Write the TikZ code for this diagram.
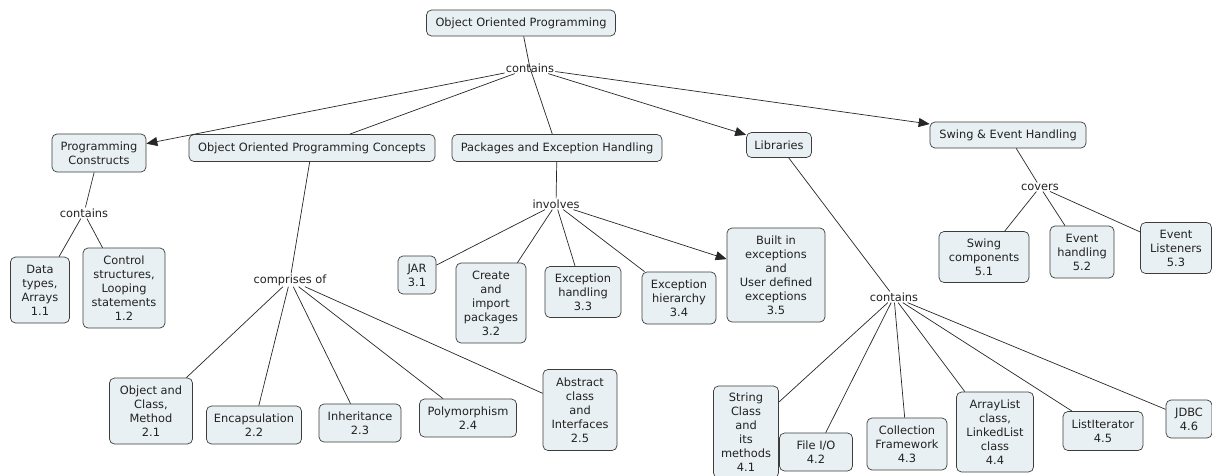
\documentclass[tikz,border=0pt]{standalone}
\usepackage{fontspec}
\setmainfont{DejaVu Sans}
\usetikzlibrary{arrows.meta}
\definecolor{boxfill}{RGB}{233,240,243}
\definecolor{boxline}{RGB}{60,60,60}
\definecolor{inktext}{RGB}{34,34,34}
\begin{document}
\begin{tikzpicture}[
    x=1pt, y=-1pt,
    every node/.style={font=\fontsize{11.4}{14}\selectfont, align=center,
                       text=inktext},
    concept/.style 2 args={rectangle, rounded corners=5pt, draw=boxline,
                     fill=boxfill, line width=0.7pt, inner sep=2pt,
                     minimum width=#1, minimum height=#2},
    linkphrase/.style={inner sep=1pt},
    link/.style={draw=black!85, line width=0.7pt},
    >={Triangle[length=11pt,width=9pt]},
]
\useasboundingbox (0,0) rectangle (1212,475);

% ---------- Top ----------
\node[concept={189}{26}] (oop) at (521, 23) {Object Oriented Programming};
\node[linkphrase] (has) at (530, 68) {contains};

% ---------- Main topics ----------
\node[concept={94}{38}]  (pc)    at (99, 153)   {Programming\\Constructs};
\node[concept={246}{27}] (oopc)  at (312, 148)  {Object Oriented Programming Concepts};
\node[concept={210}{27}] (peh)   at (557, 148)  {Packages and Exception Handling};
\node[concept={65}{25}]  (lib)   at (779, 145)  {Libraries};
\node[concept={156}{26}] (swing) at (1008, 135) {Swing \& Event Handling};

% ---------- Programming constructs ----------
\node[linkphrase] (pchas) at (84, 213) {contains};
\node[concept={59}{66}] (t11) at (40, 290)  {Data\\types,\\Arrays\\1.1};
\node[concept={82}{80}] (t12) at (124, 288) {Control\\structures,\\Looping\\statements\\1.2};

% ---------- OOP concepts ----------
\node[linkphrase] (comp) at (290, 280) {comprises of};
\node[concept={83}{66}] (t21) at (151, 411) {Object and\\Class,\\Method\\2.1};
\node[concept={95}{38}] (t22) at (254, 425) {Encapsulation\\2.2};
\node[concept={82}{38}] (t23) at (360, 423) {Inheritance\\2.3};
\node[concept={97}{38}] (t24) at (468, 418) {Polymorphism\\2.4};
\node[concept={74}{81}] (t25) at (580, 410) {Abstract\\class\\and\\Interfaces\\2.5};

% ---------- Packages and exceptions ----------
\node[linkphrase] (inv) at (556, 204) {involves};
\node[concept={38}{38}] (t31) at (417, 275) {JAR\\3.1};
\node[concept={70}{80}] (t32) at (491, 303) {Create\\and\\import\\packages\\3.2};
\node[concept={76}{51}] (t33) at (583, 292) {Exception\\handling\\3.3};
\node[concept={74}{52}] (t34) at (679, 298) {Exception\\hierarchy\\3.4};
\node[concept={98}{94}] (t35) at (776, 275) {Built in\\exceptions\\and\\User defined\\exceptions\\3.5};

% ---------- Libraries ----------
\node[linkphrase] (libhas) at (894, 297) {contains};
\node[concept={65}{92}] (t41) at (746, 432)  {String\\Class\\and\\its\\methods\\4.1};
\node[concept={73}{38}] (t42) at (816, 452)  {File I/O\\4.2};
\node[concept={80}{52}] (t43) at (907, 444)  {Collection\\Framework\\4.3};
\node[concept={77}{80}] (t44) at (995, 432)  {ArrayList\\class,\\LinkedList\\class\\4.4};
\node[concept={80}{39}] (t45) at (1103, 431) {ListIterator\\4.5};
\node[concept={46}{38}] (t46) at (1189, 419) {JDBC\\4.6};

% ---------- Swing ----------
\node[linkphrase] (cov) at (1040, 187) {covers};
\node[concept={90}{51}] (t51) at (984, 257)  {Swing\\components\\5.1};
\node[concept={64}{52}] (t52) at (1082, 252) {Event\\handling\\5.2};
\node[concept={71}{51}] (t53) at (1176, 248) {Event\\Listeners\\5.3};

% ---------- Links ----------
\draw[link] (oop) -- (has.center) -- (peh);
\draw[link, ->] (has) -- (pc);
\draw[link] (has) -- (oopc);
\draw[link, ->] (has) -- (lib);
\draw[link, ->] (has) -- (swing);

\draw[link] (pc) -- (pchas);
\foreach \t in {t11, t12} \draw[link] (pchas) -- (\t);

\draw[link] (oopc) -- (comp);
\foreach \t in {t21, t22, t23, t24, t25} \draw[link] (comp) -- (\t);

\draw[link] (peh) -- (inv);
\foreach \t in {t31, t32, t33, t34} \draw[link] (inv) -- (\t);
\draw[link, ->] (inv) -- (t35);

\draw[link] (lib) -- (libhas);
\foreach \t in {t41, t42, t43, t44, t45, t46} \draw[link] (libhas) -- (\t);

\draw[link] (swing) -- (cov);
\foreach \t in {t51, t52, t53} \draw[link] (cov) -- (\t);

\end{tikzpicture}
\end{document}
